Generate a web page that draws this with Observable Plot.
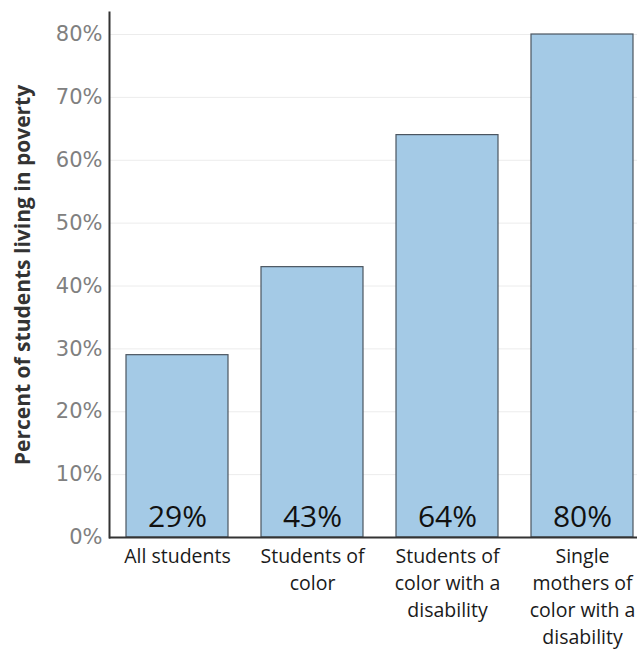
<!DOCTYPE html>
<html>
<head>
<meta charset="utf-8">
<script src="https://cdn.jsdelivr.net/npm/d3@7"></script>
<script src="https://cdn.jsdelivr.net/npm/@observablehq/plot@0.6"></script>
<style>
  html, body { margin: 0; padding: 0; background: #fff; }
  #chart svg { display: block; overflow: hidden; }
</style>
</head>
<body>
<div id="chart"></div>
<script>
// Share of students living in poverty, by group
const categories = ["All students", "Students of color", "Students of color with a disability", "Single mothers of color with a disability"];
const tickLabels = ["All students", "Students of\ncolor", "Students of\ncolor with a\ndisability", "Single\nmothers of\ncolor with a\ndisability"];
const values = [29, 43, 64, 80];
const yTicks = [0, 10, 20, 30, 40, 50, 60, 70, 80];

const data = categories.map((c, i) => ({category: c, label: tickLabels[i], value: values[i]}));
const labelOf = new Map(data.map(d => [d.category, d.label]));

const chart = Plot.plot({
  width: 637,
  height: 650,
  marginTop: 12,
  marginLeft: 109,
  marginBottom: 113,
  marginRight: 0,
  style: {fontFamily: "'Open Sans', sans-serif", background: "#fff"},
  x: {domain: categories, range: [109, 650], paddingInner: 0.245, paddingOuter: 0.118},
  y: {domain: [0, 83.5]},
  marks: [
    Plot.gridY(yTicks, {stroke: "#ececec", strokeOpacity: 1, strokeWidth: 1}),
    Plot.barY(data, {x: "category", y: "value", fill: "#a4cae6", stroke: "#4b5560", strokeWidth: 1.2}),
    Plot.text(data, {x: "category", y: 0, text: d => `${d.value}%`, dy: -20, fontSize: 30, fill: "#111", lineAnchor: "middle"}),
    Plot.axisY({ticks: yTicks, tickSize: 0, tickPadding: 7, tickFormat: d => `${d}%`, fontSize: 21,
      fontFamily: "'DejaVu Sans', sans-serif", color: "#808080",
      label: "Percent of students living in poverty", labelAnchor: "center", labelArrow: "none", labelOffset: 94}),
    Plot.axisX({tickSize: 0, tickPadding: 6, tickFormat: d => labelOf.get(d), fontSize: 19.5, lineHeight: 1.385, color: "#1a1a1a", label: null}),
    Plot.ruleY([0], {stroke: "#333", strokeWidth: 2}),
    Plot.frame({anchor: "left", stroke: "#333", strokeWidth: 2})
  ]
});

// y-axis title styling
chart.querySelectorAll("[aria-label='y-axis label'] text, [aria-label='y-axis label']").forEach(el => {
  el.setAttribute("font-size", 21);
  el.setAttribute("font-weight", "bold");
  el.setAttribute("fill", "#333");
  el.setAttribute("font-family", "'Open Sans', sans-serif");
});
document.getElementById("chart").appendChild(chart);
</script>
</body>
</html>
